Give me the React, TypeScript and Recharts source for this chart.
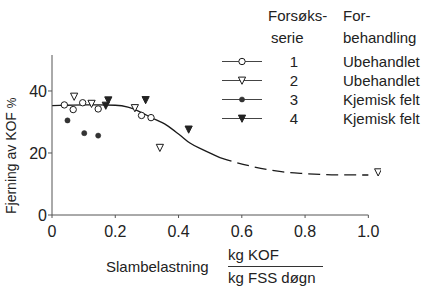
import React from 'react';
import { ComposedChart, Line, Scatter, XAxis, YAxis, ReferenceLine } from 'recharts';

// Data
const xTicks = [0, 0.2, 0.4, 0.6, 0.8, 1.0];
const yTicks = [0, 20, 40];

const serie1 = [
  { x: 0.039, y: 35.5 },
  { x: 0.067, y: 34.0 },
  { x: 0.097, y: 36.2 },
  { x: 0.146, y: 34.2 },
  { x: 0.283, y: 32.1 },
  { x: 0.313, y: 31.4 },
];
const serie2 = [
  { x: 0.07, y: 38.2 },
  { x: 0.125, y: 35.9 },
  { x: 0.262, y: 34.5 },
  { x: 0.341, y: 21.7 },
  { x: 1.031, y: 13.8 },
];
const serie3 = [
  { x: 0.049, y: 30.5 },
  { x: 0.102, y: 26.4 },
  { x: 0.146, y: 25.6 },
];
const serie4 = [
  { x: 0.17, y: 35.3 },
  { x: 0.178, y: 37.0 },
  { x: 0.296, y: 37.1 },
  { x: 0.432, y: 27.6 },
];

const curveSolid = [
  { x: 0, y: 35.3 },
  { x: 0.05, y: 35.4 },
  { x: 0.1, y: 35.5 },
  { x: 0.15, y: 35.5 },
  { x: 0.2, y: 35.4 },
  { x: 0.24, y: 34.8 },
  { x: 0.28, y: 33.2 },
  { x: 0.31, y: 31.6 },
  { x: 0.362, y: 29.0 },
  { x: 0.404, y: 25.8 },
  { x: 0.436, y: 23.2 },
  { x: 0.478, y: 21.0 },
  { x: 0.531, y: 18.5 },
];
const curveDashed = [
  { x: 0.531, y: 18.5 },
  { x: 0.556, y: 17.7 },
  { x: 0.626, y: 15.8 },
  { x: 0.678, y: 14.7 },
  { x: 0.73, y: 13.9 },
  { x: 0.789, y: 13.4 },
  { x: 0.847, y: 13.1 },
  { x: 0.9, y: 12.95 },
  { x: 1.0, y: 12.9 },
];

const serieNumbers = ['1', '2', '3', '4'];
const treatments = ['Ubehandlet', 'Ubehandlet', 'Kjemisk felt', 'Kjemisk felt'];

const INK = '#1a1a1a';

type MarkProps = { cx?: number; cy?: number };

const OpenCircle = ({ cx = 0, cy = 0 }: MarkProps) => (
  <circle cx={cx} cy={cy} r={3.2} fill="#fff" stroke={INK} strokeWidth={1} />
);
const OpenTri = ({ cx = 0, cy = 0 }: MarkProps) => (
  <polygon
    points={`${cx - 3.6},${cy - 3.4} ${cx + 3.6},${cy - 3.4} ${cx},${cy + 3.8}`}
    fill="#fff"
    stroke={INK}
    strokeWidth={1}
  />
);
const FilledCircle = ({ cx = 0, cy = 0 }: MarkProps) => (
  <circle cx={cx} cy={cy} r={2.6} fill="#333" stroke="#333" strokeWidth={0.5} />
);
const FilledTri = ({ cx = 0, cy = 0 }: MarkProps) => (
  <polygon
    points={`${cx - 3.6},${cy - 3.4} ${cx + 3.6},${cy - 3.4} ${cx},${cy + 3.8}`}
    fill="#222"
    stroke="#222"
    strokeWidth={1}
  />
);

const markers = [OpenCircle, OpenTri, FilledCircle, FilledTri];

const FONT = '"Liberation Sans", Arial, Helvetica, sans-serif';

export default function App() {
  const rowBase = [67, 86, 105, 124];
  return (
    <div style={{ position: 'absolute', left: 0, top: 0, width: 433, height: 286, background: '#fff' }}>
      <ComposedChart
        width={433}
        height={286}
        margin={{ top: 55, right: 52, bottom: 41, left: 0 }}
        style={{ fontFamily: FONT }}
      >
        <XAxis
          type="number"
          dataKey="x"
          domain={[0, 1.04]}
          ticks={xTicks}
          tickFormatter={(v: number) => (v === 0 ? '0' : v.toFixed(1))}
          axisLine={false}
          height={30}
          tickSize={3}
          tickMargin={8}
          tickLine={{ stroke: '#555' }}
          tick={{ fontSize: 16, fill: '#222', fontFamily: FONT }}
          allowDataOverflow
        />
        <YAxis
          type="number"
          dataKey="y"
          domain={[0, 51.6]}
          ticks={yTicks}
          width={52}
          axisLine={{ stroke: '#555' }}
          tickLine={{ stroke: '#555' }}
          tickSize={4}
          tickMargin={1}
          tick={{ fontSize: 16, fill: '#222', fontFamily: FONT }}
          allowDataOverflow
        />
        <ReferenceLine
          segment={[{ x: 0, y: 0 }, { x: 1, y: 0 }]}
          stroke="#555"
          strokeWidth={1}
        />
        <Line
          data={curveSolid}
          dataKey="y"
          type="monotone"
          stroke={INK}
          strokeWidth={1.3}
          dot={false}
          activeDot={false}
          isAnimationActive={false}
        />
        <Line
          data={curveDashed}
          dataKey="y"
          type="monotone"
          stroke={INK}
          strokeWidth={1.3}
          strokeDasharray="12 6"
          dot={false}
          activeDot={false}
          isAnimationActive={false}
        />
        <Scatter data={serie1} dataKey="y" shape={(p: any) => <OpenCircle cx={p.cx} cy={p.cy} />} isAnimationActive={false} />
        <Scatter data={serie2} dataKey="y" shape={(p: any) => <OpenTri cx={p.cx} cy={p.cy} />} isAnimationActive={false} />
        <Scatter data={serie3} dataKey="y" shape={(p: any) => <FilledCircle cx={p.cx} cy={p.cy} />} isAnimationActive={false} />
        <Scatter data={serie4} dataKey="y" shape={(p: any) => <FilledTri cx={p.cx} cy={p.cy} />} isAnimationActive={false} />
      </ComposedChart>
      <svg
        width={433}
        height={286}
        style={{ position: 'absolute', left: 0, top: 0, pointerEvents: 'none', fontFamily: FONT }}
      >
        {/* Legend headers */}
        <text x={268} y={21} fontSize={15} fill="#222">Forsøks-</text>
        <text x={271} y={43} fontSize={15} fill="#222">serie</text>
        <text x={343} y={21} fontSize={15} fill="#222">For-</text>
        <text x={343} y={43} fontSize={15} fill="#222">behandling</text>
        {serieNumbers.map((n, i) => {
          const M = markers[i];
          const cy = rowBase[i] - 5.5;
          return (
            <g key={n}>
              <line x1={222} x2={262} y1={cy} y2={cy} stroke="#444" strokeWidth={1} />
              <M cx={242} cy={cy} />
              <text x={294} y={rowBase[i]} fontSize={15} fill="#222" textAnchor="middle">{n}</text>
              <text x={343} y={rowBase[i]} fontSize={15} fill="#222">{treatments[i]}</text>
            </g>
          );
        })}
        {/* Y axis title */}
        <text transform="translate(16,214) rotate(-90)" fontSize={14} fill="#222">
          Fjerning av KOF <tspan fontSize={12}>%</tspan>
        </text>
        {/* X axis title */}
        <text x={106} y={272} fontSize={15} fill="#222">Slambelastning</text>
        <text x={228} y={260} fontSize={15} fill="#222">kg KOF</text>
        <line x1={228} x2={323} y1={266.5} y2={266.5} stroke="#333" strokeWidth={1} />
        <text x={228} y={283} fontSize={15} fill="#222">kg FSS døgn</text>
      </svg>
    </div>
  );
}
